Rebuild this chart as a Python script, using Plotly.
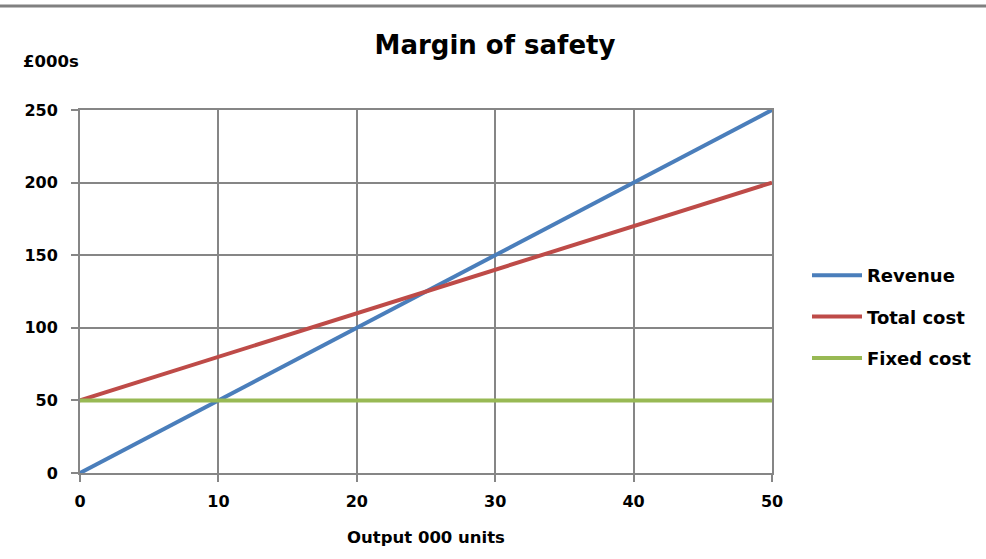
import plotly.graph_objects as go

output_units = [0, 10, 20, 30, 40, 50]
revenue = [0, 50, 100, 150, 200, 250]
total_cost = [50, 80, 110, 140, 170, 200]
fixed_cost = [50, 50, 50, 50, 50, 50]

x_ticks = [0, 10, 20, 30, 40, 50]
y_ticks = [0, 50, 100, 150, 200, 250]

FONT = "DejaVu Sans"
GRID = "#868686"

# page pixel geometry of plot area
PX0, PX1, PY0, PY1 = 80, 772, 473, 110
PW, PH = PX1 - PX0, PY0 - PY1
W, H = 986, 559


def px(x):
    return (x - PX0) / PW


def py(y):
    return (PY0 - y) / PH


fig = go.Figure()
fig.add_trace(go.Scatter(x=output_units, y=revenue, mode="lines", name="Revenue",
                         line=dict(color="#4a7ebb", width=4), legendgroup="a"))
fig.add_trace(go.Scatter(x=output_units, y=total_cost, mode="lines", name="Total cost",
                         line=dict(color="#be4b48", width=4), legendgroup="b"))
fig.add_trace(go.Scatter(x=output_units, y=fixed_cost, mode="lines", name="Fixed cost",
                         line=dict(color="#98b954", width=4), legendgroup="c"))

axis_common = dict(showgrid=True, gridcolor=GRID, gridwidth=2,
                   showline=True, linecolor=GRID, linewidth=2, mirror=True,
                   ticks="outside", ticklen=7, tickcolor=GRID, tickwidth=2,
                   zeroline=False,
                   tickfont=dict(size=16, family=FONT, weight="bold", color="black"))

fig.update_layout(
    width=W, height=H,
    margin=dict(l=PX0, r=W - PX1, t=PY1, b=H - PY0, autoexpand=False),
    paper_bgcolor="white", plot_bgcolor="white",
    font=dict(family=FONT, size=16, color="black"),
    title=dict(text="Margin of safety", x=495 / W, xanchor="center",
               y=1 - 45 / H, yanchor="middle",
               font=dict(size=26, family=FONT, weight="bold", color="black")),
    showlegend=True,
    legend=dict(x=px(807), xanchor="left", y=py(257), yanchor="top",
                font=dict(size=18, family=FONT, weight="bold", color="black"),
                tracegroupgap=15, itemwidth=50,
                bgcolor="rgba(0,0,0,0)"),
    xaxis=dict(range=[0, 50], tickvals=x_ticks, ticklabelstandoff=6,
               title=dict(text="Output 000 units",
                          font=dict(size=16.5, family=FONT, weight="bold", color="black"),
                          standoff=21),
               **axis_common),
    yaxis=dict(range=[0, 250], tickvals=y_ticks, ticklabelstandoff=10, **axis_common),
)

fig.add_annotation(text="£000s", xref="paper", yref="paper",
                   x=px(21), xanchor="left", y=py(61), yanchor="middle",
                   showarrow=False,
                   font=dict(size=16.5, family=FONT, weight="bold", color="black"))

fig.add_shape(type="line", xref="paper", yref="paper",
              x0=px(0), x1=px(986), y0=py(6), y1=py(6),
              line=dict(color="#808080", width=3))

fig.write_html("out.html", config={"displayModeBar": False},
               post_script="document.body.style.margin='0';document.body.style.overflow='hidden';")
